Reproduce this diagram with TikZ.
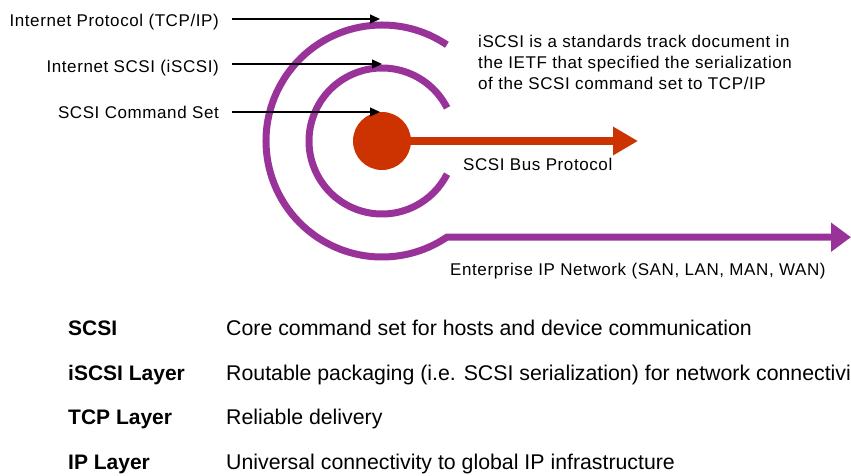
\documentclass[tikz,border=0pt]{standalone}
\usepackage{fontspec}
\setmainfont{Liberation Sans}
\newfontfamily\trackedsans[LetterSpace=3.5]{Liberation Sans}
\usepackage{tikz}
\usetikzlibrary{arrows.meta}
\definecolor{ringpurple}{HTML}{993399}
\definecolor{busred}{HTML}{CC3300}

\begin{document}
\begin{tikzpicture}[x=1pt,y=1pt,
  toplabel/.style={inner sep=0pt,font=\trackedsans\fontsize{17}{21}\selectfont},
  pointer/.style={draw=black,line width=1.2pt,-{Triangle[length=10pt,width=9pt]}},
  ring/.style={draw=ringpurple,line width=7pt},
  rowhead/.style={anchor=base west,inner sep=0pt,font=\bfseries\fontsize{21}{25}\selectfont},
  rowtext/.style={anchor=base west,inner sep=0pt,font=\fontsize{21.3}{25}\selectfont}]
\useasboundingbox (0,0) rectangle (851,475);
\clip (0,0) rectangle (851,475);
% the layers round the command set:
\coordinate (core) at (382,334);
\coordinate (nettip) at (851,237.8);
\coordinate (bustip) at (638,334);
\path[ring] (core) ++(27:73) arc[start angle=27,end angle=333,radius=73];
\path[ring,-{Triangle[length=20pt,width=28pt]}] (core) ++(56:116)
  arc[start angle=56,end angle=304,radius=116] -- (nettip);
\path[draw=busred,line width=8pt,-{Triangle[length=25pt,width=27pt]}] (core) -- (bustip);
\path[fill=busred] (core) circle[radius=29];
% labels with pointers:
\coordinate (tcptip) at (380,456);
\coordinate (iscsitip) at (382,411);
\coordinate (cmdtip) at (380,363);
\node[toplabel,anchor=base east,inner xsep=13pt] (tcplbl) at (232,448) {Internet Protocol (TCP/IP)};
\node[toplabel,anchor=base east,inner xsep=13pt] (iscsilbl) at (232,402) {Internet SCSI (iSCSI)};
\node[toplabel,anchor=base east,inner xsep=13pt] (cmdlbl) at (232,356) {SCSI Command Set};
\path[pointer] (tcplbl.east |- tcptip) -- (tcptip);
\path[pointer] (iscsilbl.east |- iscsitip) -- (iscsitip);
\path[pointer] (cmdlbl.east |- cmdtip) -- (cmdtip);
\node[toplabel,anchor=north west,align=left] (note) at (478,440.5)
  {iSCSI is a standards track document in\\the IETF that specified the serialization\\of the SCSI command set to TCP/IP};
\node[toplabel,anchor=base west] (buslbl) at (463,305) {SCSI Bus Protocol};
\node[toplabel,anchor=base west] (netlbl) at (450,200) {Enterprise IP Network (SAN, LAN, MAN, WAN)};
% layer table:
\node[rowhead] (scsihead) at (68,140) {SCSI};
\node[rowtext] (scsitext) at (226,140) {Core command set for hosts and device communication};
\node[rowhead] (iscsihead) at (68,95) {iSCSI Layer};
\node[rowtext] (iscsitext) at (226,95) {Routable packaging (i.e. SCSI serialization) for network connectivity};
\node[rowhead] (tcphead) at (68,51) {TCP Layer};
\node[rowtext] (tcptext) at (226,51) {Reliable delivery};
\node[rowhead] (iphead) at (68,6) {IP Layer};
\node[rowtext] (iptext) at (226,6) {Universal connectivity to global IP infrastructure};
\end{tikzpicture}
\end{document}
